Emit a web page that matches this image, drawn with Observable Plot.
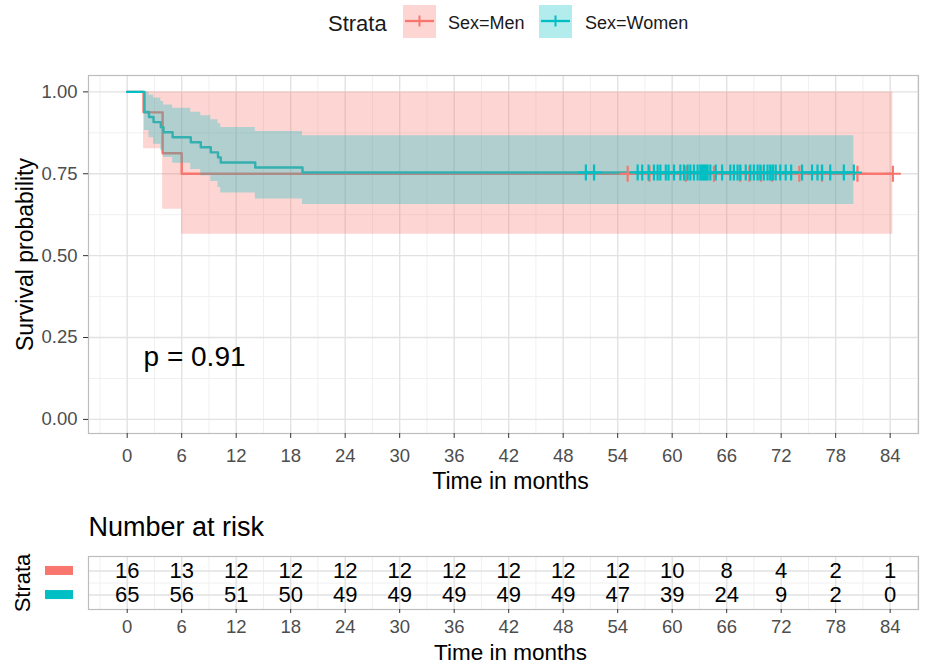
<!DOCTYPE html>
<html><head><meta charset="utf-8">
<script src="https://cdn.jsdelivr.net/npm/d3@7"></script>
<script src="https://cdn.jsdelivr.net/npm/@observablehq/plot@0.6"></script>
<style>
body{margin:0;background:#fff;font-family:"Liberation Sans",Arial,sans-serif;}
#wrap{position:relative;width:928px;height:664px;overflow:hidden;background:#fff;}
.abs{position:absolute;white-space:nowrap;}
#main{position:absolute;left:0;top:50px;}
#risk{position:absolute;left:0;top:500px;}
</style></head>
<body><div id="wrap">
<div id="legend"></div>
<div id="main"></div>
<div id="risk"></div>
</div>
<script>
// ---------------- data ----------------
const strata = ["Sex=Men", "Sex=Women"];
const colors = ["#F8766D", "#00BFC4"];

// Kaplan-Meier steps (time in months)
const menTimes = [0, 1.8, 3.9, 6.0, 84.3];
const menSurv  = [1, 0.9375, 0.8125, 0.75, 0.75];
const menLower = [1, 0.826, 0.642, 0.565, 0.565];
const menUpper = [1, 1, 1, 1, 1];

const womenTimes = [0, 1.9, 2.4, 2.9, 3.7, 4.0, 5.0, 7.0, 8.1, 9.2, 10.0, 10.3, 14.1, 19.3, 80.0];
const womenSurv  = [1, 0.9385, 0.9231, 0.9077, 0.8923, 0.8769, 0.8615, 0.8462, 0.8308, 0.8154, 0.8, 0.7846, 0.7692, 0.7538, 0.7538];
const womenLower = [1, 0.882, 0.860, 0.840, 0.820, 0.800, 0.782, 0.763, 0.744, 0.726, 0.708, 0.691, 0.673, 0.656, 0.656];
const womenUpper = [1, 0.999, 0.990, 0.981, 0.971, 0.960, 0.950, 0.938, 0.927, 0.915, 0.903, 0.891, 0.879, 0.866, 0.866];

// censoring times
const menCensor = [55.1, 57.5, 61.5, 64.6, 67.5, 68.5, 69.8, 71.0, 74.0, 76.5, 80.4, 84.3];
const womenCensor = [50.5, 51.4, 56.2, 56.7, 57.4, 58.0, 58.4, 58.7, 59.3, 59.6,
  60.2, 60.9, 61.3, 61.7, 62.0, 62.4, 62.8, 63.1, 63.3, 63.5, 63.7, 63.9, 64.2, 64.8, 65.5,
  66.4, 66.8, 67.2, 67.5, 68.1, 68.6, 69.0, 69.4, 69.7, 70.1, 70.5, 70.8, 71.1, 71.4, 71.9,
  72.5, 73.1, 74.3, 75.4, 76.0, 76.5, 77.4, 78.9, 80.0];

// number at risk
const riskTimes = [0, 6, 12, 18, 24, 30, 36, 42, 48, 54, 60, 66, 72, 78, 84];
const riskMen   = [16, 13, 12, 12, 12, 12, 12, 12, 12, 12, 10, 8, 4, 2, 1];
const riskWomen = [65, 56, 51, 50, 49, 49, 49, 49, 49, 47, 39, 24, 9, 2, 0];

// axis ticks
const xTicks = [0, 6, 12, 18, 24, 30, 36, 42, 48, 54, 60, 66, 72, 78, 84];
const xMinor = [-3, 3, 9, 15, 21, 27, 33, 39, 45, 51, 57, 63, 69, 75, 81, 87];
const yTicks = [0, 0.25, 0.5, 0.75, 1];
const yMinor = [0.125, 0.375, 0.625, 0.875];

const pText = "p = 0.91";
const xLabel = "Time in months";
const yLabel = "Survival probability";

// ---------------- build tables ----------------
const curve = (times, surv, lo, hi) => times.map((t, i) => ({t, s: surv[i], lo: lo[i], hi: hi[i]}));
const men = curve(menTimes, menSurv, menLower, menUpper);
const women = curve(womenTimes, womenSurv, womenLower, womenUpper);
const survAt = (times, surv, t) => { let v = surv[0]; times.forEach((tt, i) => { if (tt <= t) v = surv[i]; }); return v; };
const menC = menCensor.map(t => ({t, s: survAt(menTimes, menSurv, t)}));
const womenC = womenCensor.map(t => ({t, s: survAt(womenTimes, womenSurv, t)}));
const riskRows = riskTimes.flatMap((t, i) => [
  {t, row: 1, n: riskMen[i]},
  {t, row: 2, n: riskWomen[i]}
]);

const font = "Liberation Sans, Arial, sans-serif";
const xDomain = [-4.26, 87.12];
const GRID_MAJ = "#E2E2E2", GRID_MIN = "#F0F0F0", BORDER = "#BDBDBD";

// ---------------- legend (HTML) ----------------
function legendKey(color) {
  return `<svg width="33" height="33" style="display:block">
    <rect x="0" y="0" width="33" height="33" fill="${color}" fill-opacity="0.3"/>
    <line x1="2" x2="31" y1="16" y2="16" stroke="${color}" stroke-width="2.3"/>
    <line x1="16.5" x2="16.5" y1="10.5" y2="21.5" stroke="${color}" stroke-width="2"/>
    <line x1="11" x2="22" y1="16" y2="16" stroke="${color}" stroke-width="2"/>
  </svg>`;
}
document.getElementById("legend").innerHTML = `
  <div class="abs" style="left:328px;top:11px;font-size:22px;color:#1A1A1A;line-height:26px">Strata</div>
  <div class="abs" style="left:403px;top:5px">${legendKey(colors[0])}</div>
  <div class="abs" style="left:448px;top:12px;font-size:18px;color:#1A1A1A;line-height:22px">${strata[0]}</div>
  <div class="abs" style="left:539px;top:5px">${legendKey(colors[1])}</div>
  <div class="abs" style="left:585px;top:12px;font-size:18px;color:#1A1A1A;line-height:22px">${strata[1]}</div>`;

// ---------------- main plot ----------------
const main = Plot.plot({
  width: 928, height: 445,
  marginLeft: 88, marginRight: 10, marginTop: 25, marginBottom: 62,
  style: {fontFamily: font, background: "transparent", color: "#4D4D4D", overflow: "visible"},
  x: {domain: xDomain, axis: null},
  y: {domain: [-0.043, 1.05], axis: null},
  marks: [
    Plot.gridX(xMinor, {stroke: GRID_MIN, strokeOpacity: 1, strokeWidth: 1}),
    Plot.gridY(yMinor, {stroke: GRID_MIN, strokeOpacity: 1, strokeWidth: 1}),
    Plot.gridX(xTicks, {stroke: GRID_MAJ, strokeOpacity: 1, strokeWidth: 1.4}),
    Plot.gridY(yTicks, {stroke: GRID_MAJ, strokeOpacity: 1, strokeWidth: 1.4}),
    Plot.line(men, {x: "t", y: "s", curve: "step-after", stroke: colors[0], strokeWidth: 2.4}),
    Plot.line(women, {x: "t", y: "s", curve: "step-after", stroke: colors[1], strokeWidth: 2.4}),
    Plot.areaY(men, {x: "t", y1: "lo", y2: "hi", curve: "step-after", fill: colors[0], fillOpacity: 0.3}),
    Plot.areaY(women, {x: "t", y1: "lo", y2: "hi", curve: "step-after", fill: colors[1], fillOpacity: 0.3}),
    Plot.dot(menC, {x: "t", y: "s", symbol: "plus", r: 5.2, stroke: colors[0], strokeWidth: 2.2}),
    Plot.dot(womenC, {x: "t", y: "s", symbol: "plus", r: 5.2, stroke: colors[1], strokeWidth: 2.2}),
    Plot.text([pText], {x: 1.8, y: 0.19, textAnchor: "start", lineAnchor: "middle", fontSize: 28, fill: "#000"}),
    Plot.frame({stroke: BORDER, strokeWidth: 1.2}),
    Plot.axisX(xTicks, {tickSize: 5, tickPadding: 10, fontSize: 18.5, label: null, stroke: "#333", tickFormat: d => String(d)}),
    Plot.axisY(yTicks, {tickSize: 5, tickPadding: 6, fontSize: 18.5, label: null, stroke: "#333", tickFormat: d => d.toFixed(2)}),
    Plot.text([xLabel], {frameAnchor: "bottom", lineAnchor: "middle", textAnchor: "middle", dx: 7, dy: 48, fontSize: 23, fill: "#000"}),
    Plot.text([yLabel], {frameAnchor: "left", lineAnchor: "middle", textAnchor: "middle", rotate: -90, dx: -63, fontSize: 23, fill: "#000"})
  ]
});
document.getElementById("main").appendChild(main);

// ---------------- risk table ----------------
const strataRows = [1, 2];
const stripMark = (index, scales, values, dims) => {
  const g = d3.create("svg:g");
  strataRows.forEach((r, i) => {
    g.append("rect")
      .attr("x", dims.marginLeft - 43).attr("y", scales.y(r) - 4.5)
      .attr("width", 28).attr("height", 9).attr("fill", colors[i]);
  });
  return g.node();
};
const risk = Plot.plot({
  width: 928, height: 164,
  marginLeft: 88, marginRight: 10, marginTop: 56, marginBottom: 55,
  style: {fontFamily: font, background: "transparent", color: "#4D4D4D", overflow: "visible"},
  x: {domain: xDomain, axis: null},
  y: {domain: [0.4, 2.6], reverse: true, axis: null},
  marks: [
    Plot.gridX(xMinor, {stroke: GRID_MIN, strokeOpacity: 1, strokeWidth: 1}),
    Plot.gridY([1.5], {stroke: GRID_MIN, strokeOpacity: 1, strokeWidth: 1}),
    Plot.gridX(xTicks, {stroke: GRID_MAJ, strokeOpacity: 1, strokeWidth: 1.4}),
    Plot.gridY(strataRows, {stroke: GRID_MAJ, strokeOpacity: 1, strokeWidth: 1.4}),
    Plot.text(riskRows, {x: "t", y: "row", text: "n", fontSize: 22, fill: "#000"}),
    Plot.frame({stroke: BORDER, strokeWidth: 1.2}),
    Plot.axisX(xTicks, {tickSize: 4, tickPadding: 6, fontSize: 18.5, label: null, stroke: "#333", tickFormat: d => String(d)}),
    Plot.text([xLabel], {frameAnchor: "bottom", lineAnchor: "middle", textAnchor: "middle", dx: 7, dy: 43, fontSize: 22.5, fill: "#000"}),
    Plot.text(["Number at risk"], {frameAnchor: "top-left", lineAnchor: "middle", dy: -29, textAnchor: "start", fontSize: 27, fill: "#000"}),
    Plot.text(["Strata"], {frameAnchor: "left", lineAnchor: "middle", textAnchor: "middle", rotate: -90, dx: -66, fontSize: 22, fill: "#000"}),
    stripMark
  ]
});
document.getElementById("risk").appendChild(risk);
</script>
</body></html>
